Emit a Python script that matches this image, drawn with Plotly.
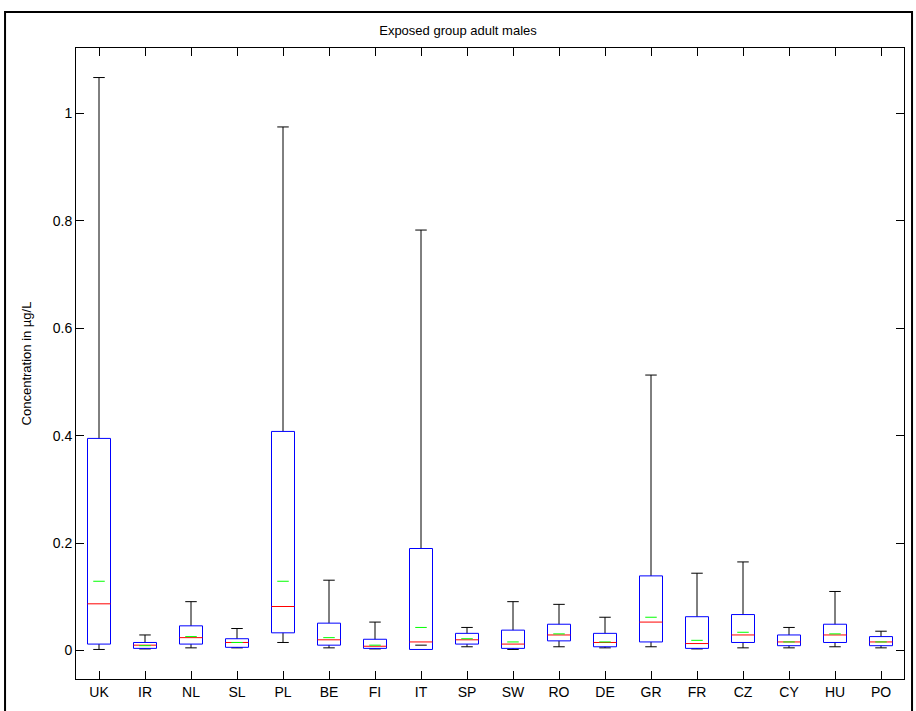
import plotly.graph_objects as go

categories = ["UK", "IR", "NL", "SL", "PL", "BE", "FI", "IT", "SP", "SW",
              "RO", "DE", "GR", "FR", "CZ", "CY", "HU", "PO"]
whisker_hi = [1.067, 0.029, 0.091, 0.041, 0.975, 0.131, 0.053, 0.783, 0.043, 0.091,
              0.086, 0.062, 0.513, 0.144, 0.165, 0.043, 0.110, 0.036]
q3 = [0.395, 0.015, 0.046, 0.022, 0.408, 0.051, 0.021, 0.190, 0.032, 0.038,
      0.049, 0.032, 0.139, 0.063, 0.067, 0.029, 0.049, 0.026]
median = [0.087, 0.010, 0.024, 0.015, 0.082, 0.020, 0.008, 0.016, 0.020, 0.012,
          0.029, 0.015, 0.053, 0.013, 0.029, 0.016, 0.029, 0.016]
mean = [0.129, 0.009, 0.026, 0.015, 0.129, 0.024, 0.010, 0.043, 0.022, 0.016,
        0.031, 0.016, 0.062, 0.019, 0.034, 0.016, 0.031, 0.016]
q1 = [0.012, 0.004, 0.012, 0.006, 0.033, 0.010, 0.004, 0.002, 0.012, 0.004,
      0.018, 0.007, 0.016, 0.004, 0.015, 0.009, 0.015, 0.009]
whisker_lo = [0.002, 0.003, 0.005, 0.005, 0.015, 0.005, 0.003, 0.010, 0.007, 0.002,
              0.007, 0.005, 0.007, 0.003, 0.005, 0.005, 0.007, 0.005]

BOX_W = 0.5
CAP_W = 0.25
MEAN_W = 0.25

wx, wy, bx, by, mx, my, ax_, ay = [], [], [], [], [], [], [], []
for i, cat in enumerate(categories):
    p = i + 1
    # upper whisker + cap
    wx += [p, p, None, p - CAP_W / 2, p + CAP_W / 2, None]
    wy += [q3[i], whisker_hi[i], None, whisker_hi[i], whisker_hi[i], None]
    # lower whisker + cap
    if whisker_lo[i] < q1[i]:
        wx += [p, p, None]
        wy += [q1[i], whisker_lo[i], None]
    wx += [p - CAP_W / 2, p + CAP_W / 2, None]
    wy += [whisker_lo[i], whisker_lo[i], None]
    # box
    l, r = p - BOX_W / 2, p + BOX_W / 2
    bx += [l, r, r, l, l, None]
    by += [q1[i], q1[i], q3[i], q3[i], q1[i], None]
    # median
    mx += [l, r, None]
    my += [median[i], median[i], None]
    # mean
    ax_ += [p - MEAN_W / 2, p + MEAN_W / 2, None]
    ay += [mean[i], mean[i], None]

fig = go.Figure()
fig.add_trace(go.Scatter(x=wx, y=wy, mode="lines", line=dict(color="black", width=1),
                         hoverinfo="skip", name="whiskers"))
fig.add_trace(go.Scatter(x=bx, y=by, mode="lines", line=dict(color="#0000ff", width=1),
                         hoverinfo="skip", name="box"))
fig.add_trace(go.Scatter(x=mx, y=my, mode="lines", line=dict(color="#ff0000", width=1),
                         hoverinfo="skip", name="median"))
fig.add_trace(go.Scatter(x=ax_, y=ay, mode="lines", line=dict(color="#00ff00", width=1),
                         hoverinfo="skip", name="mean"))

font_family = "Liberation Sans, Arial, sans-serif"
fig.update_layout(
    width=916, height=711,
    margin=dict(l=76, r=12, t=48, b=32, autoexpand=False),
    paper_bgcolor="white", plot_bgcolor="white",
    showlegend=False,
    font=dict(family=font_family, size=14, color="black"),
    title=dict(text="Exposed group adult males", x=0.5, xanchor="center",
               y=1 - 30 / 711, yanchor="middle", font=dict(size=13, color="black")),
    xaxis=dict(range=[0.5, 18.5], tickmode="array",
               tickvals=list(range(1, len(categories) + 1)), ticktext=categories,
               showgrid=False, zeroline=False, showline=True, linecolor="black",
               linewidth=1, mirror="ticks", ticks="inside", ticklen=8,
               tickcolor="black", tickfont=dict(size=14), automargin=False),
    yaxis=dict(range=[-0.053, 1.122], tickmode="array",
               tickvals=[0, 0.2, 0.4, 0.6, 0.8, 1], ticktext=["0", "0.2", "0.4", "0.6", "0.8", "1"],
               showgrid=False, zeroline=False, showline=True, linecolor="black",
               linewidth=1, mirror="ticks", ticks="inside", ticklen=8,
               tickcolor="black", tickfont=dict(size=14), automargin=False,
               title=dict(text="Concentration in µg/L", font=dict(size=13), standoff=18)),
    shapes=[dict(type="rect", xref="paper", yref="paper",
                 x0=-0.0857, x1=1.0097, y0=-0.08, y1=1.057,
                 line=dict(color="black", width=2), fillcolor="rgba(0,0,0,0)")],
)

fig.write_html("out.html", config={"displayModeBar": False},
               post_script="document.body.style.margin='0px';")
